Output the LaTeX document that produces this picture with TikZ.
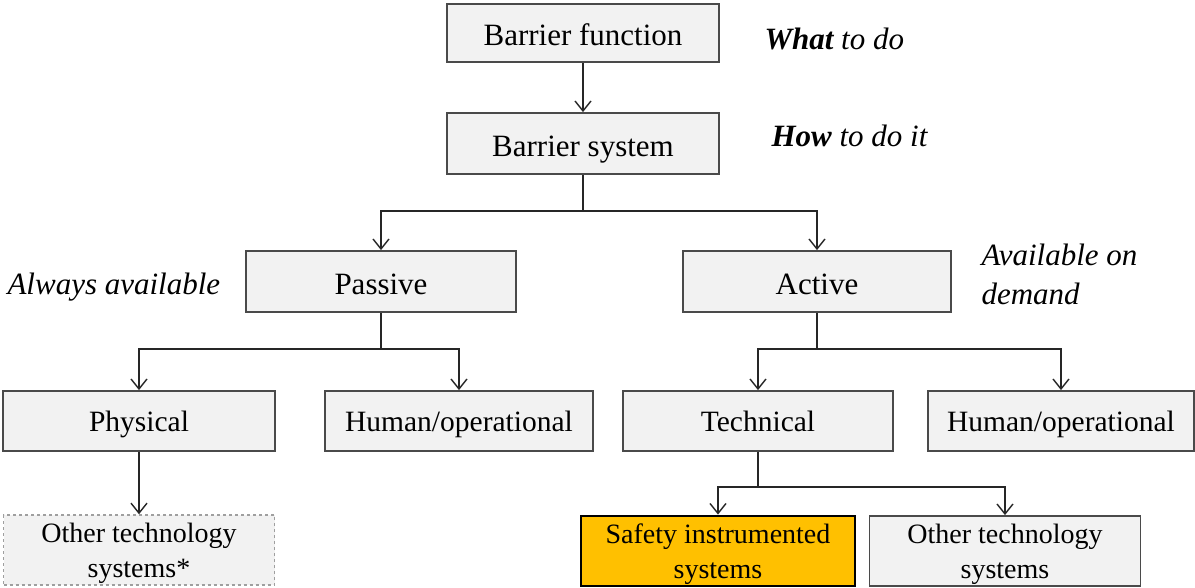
\documentclass[tikz,border=0pt]{standalone}
\usepackage{fontspec}
\setmainfont{Liberation Serif}
\usetikzlibrary{arrows.meta}
\definecolor{boxfill}{HTML}{F2F2F2}
\definecolor{boxline}{HTML}{4A4A4A}
\definecolor{sisfill}{HTML}{FFC000}
\tikzset{
  x=1pt, y=-1pt,
  box/.style={draw=boxline, line width=1.8pt, fill=boxfill, inner sep=0pt, anchor=center},
  lvlA/.style={box, font=\fontsize{31}{36}\selectfont, text height=28pt, text depth=2pt},
  lvlB/.style={box, font=\fontsize{29.5}{34}\selectfont, text depth=0pt},
  lvlC/.style={box, font=\fontsize{28}{35}\selectfont, align=center, text height=60pt, text depth=6pt},
  note/.style={font=\fontsize{31}{39}\selectfont\itshape, align=left},
  link/.style={line width=1.6pt, draw=black!85},
  arr/.style={link, -{Straight Barb[length=10pt,width=16pt,line width=1.4pt]}},
}
\begin{document}
\begin{tikzpicture}
\useasboundingbox (0,0) rectangle (1195,588);
\fill[white] (0,0) rectangle (1195,588);

% top levels
\node[lvlA, minimum width=272, minimum height=58] (bf) at (583,33) {Barrier function};
\node[lvlA, minimum width=272, minimum height=61] (bs) at (583,143.5) {Barrier system};

% passive / active
\node[lvlA, minimum width=270, minimum height=61] (pas) at (381,281.5) {Passive};
\node[lvlA, minimum width=268, minimum height=61] (act) at (817,281.5) {Active};

% third level
\node[lvlB, minimum width=272, minimum height=60] (phy) at (139,421) {Physical};
\node[lvlB, minimum width=268, minimum height=60] (hoa) at (459,421) {Human/operational};
\node[lvlB, minimum width=270, minimum height=60] (tec) at (758,421) {Technical};
\node[lvlB, minimum width=266, minimum height=60] (hob) at (1061,421) {Human/operational};

% fourth level
\node[lvlC, draw=gray!75, dashed, line width=1.4pt, minimum width=271, minimum height=70] (otp) at (139,550) {Other technology\\systems*};
\node[lvlC, fill=sisfill, draw=black, line width=2.8pt, minimum width=274, minimum height=70] (sis) at (718,551) {Safety instrumented\\systems};
\node[lvlC, minimum width=271, minimum height=70] (ott) at (1005,551) {Other technology\\systems};

% side notes
\node[anchor=west, font=\fontsize{31}{36}\selectfont\itshape] (n1) at (761,39) {\textbf{What} to do};
\node[anchor=west, font=\fontsize{31}{36}\selectfont\itshape] (n2) at (768,136) {\textbf{How} to do it};
\node[note, anchor=west] (n3) at (4,287) {Always available};
\node[note, anchor=north west] (n4) at (978,240) {Available on\\demand};

% connectors
\draw[arr] (bf.south) -- (bs.north);
\coordinate (j1) at (583,211);
\draw[link] (bs.south) -- (j1);
\draw[arr] (j1) -| (pas.north);
\draw[arr] (j1) -| (act.north);

\coordinate (j2) at (381,349);
\draw[link] (pas.south) -- (j2);
\draw[arr] (j2) -| (phy.north);
\draw[arr] (j2) -| (hoa.north);

\coordinate (j3) at (817,349);
\draw[link] (act.south) -- (j3);
\draw[arr] (j3) -| (tec.north);
\draw[arr] (j3) -| (hob.north);

\draw[arr] (phy.south) -- (otp.north);

\coordinate (j4) at (758,487);
\draw[link] (tec.south) -- (j4);
\draw[arr] (j4) -| (sis.north);
\draw[arr] (j4) -| (ott.north);
\end{tikzpicture}
\end{document}
